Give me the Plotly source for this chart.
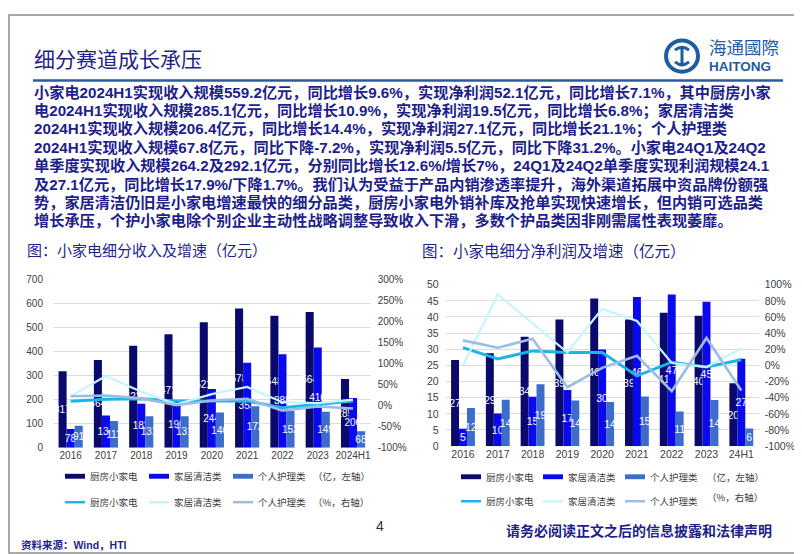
import plotly.graph_objects as go

W, H = 802, 554

# ---------------- data ----------------
series_names = ["厨房小家电", "家居清洁类", "个人护理类"]

rev_years = ["2016", "2017", "2018", "2019", "2020", "2021", "2022", "2023", "2024H1"]
rev_kitchen = [317, 364, 423, 471, 521, 578, 548, 564, 285.1]
rev_cleaning = [78, 134, 182, 190, 244, 353, 388, 416, 206.4]
rev_personal = [91, 111, 131, 131, 146, 172, 152, 149, 67.8]
rev_g_kitchen = [10, 15, 16, 11, 11, 11, -5, 3, 11]
rev_g_cleaning = [22, 70, 33, 3, 27, 44, 8, 6, 14]
rev_g_personal = [22, 24, 17, 1, 12, 16, -12, -2, -7]

prof_years = ["2016", "2017", "2018", "2019", "2020", "2021", "2022", "2023", "24H1"]
prof_kitchen = [26.7, 28.8, 33.9, 39.2, 45.7, 39.2, 41.3, 40.4, 19.5]
prof_cleaning = [5.4, 10.1, 15.3, 17.4, 29.9, 46.2, 47.0, 44.7, 27.1]
prof_personal = [11.8, 14.4, 19.2, 14.1, 13.7, 15.4, 10.7, 14.3, 5.5]
prof_g_kitchen = [22, 8, 18, 16, 16, -13, 4, -2, 7]
prof_g_cleaning = [0, 88, 52, 16, 70, 55, 3, -2, 21]
prof_g_personal = [31, 22, 33, -27, -3, 12, -32, 34, -31]

left_ticks = [0, 100, 200, 300, 400, 500, 600, 700]
left_pct_ticks = [-100, -50, 0, 50, 100, 150, 200, 250, 300]
right_ticks = [0, 5, 10, 15, 20, 25, 30, 35, 40, 45, 50]
right_pct_ticks = [-100, -80, -60, -40, -20, 0, 20, 40, 60, 80, 100]

title_text = "细分赛道成长承压"
body_lines = [
    "小家电2024H1实现收入规模559.2亿元，同比增长9.6%，实现净利润52.1亿元，同比增长7.1%，其中厨房小家",
    "电2024H1实现收入规模285.1亿元，同比增长10.9%，实现净利润19.5亿元，同比增长6.8%；家居清洁类",
    "2024H1实现收入规模206.4亿元，同比增长14.4%，实现净利润27.1亿元，同比增长21.1%；个人护理类",
    "2024H1实现收入规模67.8亿元，同比下降-7.2%，实现净利润5.5亿元，同比下降31.2%。小家电24Q1及24Q2",
    "单季度实现收入规模264.2及292.1亿元，分别同比增长12.6%/增长7%，24Q1及24Q2单季度实现利润规模24.1",
    "及27.1亿元，同比增长17.9%/下降1.7%。我们认为受益于产品内销渗透率提升，海外渠道拓展中资品牌份额强",
    "势，家居清洁仍旧是小家电增速最快的细分品类，厨房小家电外销补库及抢单实现快速增长，但内销可选品类",
    "增长承压，个护小家电除个别企业主动性战略调整导致收入下滑，多数个护品类因非刚需属性表现萎靡。",
]
sub_left = "图：小家电细分收入及增速（亿元）"
sub_right = "图：小家电细分净利润及增速（亿元）"

# ---------------- styles ----------------
BAR_COLORS = ["#0A0A6C", "#0A0AEC", "#3D6CCB"]
LINE_COLORS = ["#1DB4E6", "#C8F4FB", "#9BBCE6"]
LINE_WIDTHS = [3, 2.2, 2.6]
NAVY = "#1E1F8A"
LATIN = "Liberation Sans, Arial, Noto Sans CJK SC"
CJK = "Noto Sans CJK SC, Liberation Sans"


def px(x):
    return x / W


def py(y):
    return 1 - y / H


fig = go.Figure()

# left chart: revenue
for name, vals, col in zip(series_names, [rev_kitchen, rev_cleaning, rev_personal], BAR_COLORS):
    fig.add_trace(go.Bar(
        x=rev_years, y=vals, name=name, xaxis="x", yaxis="y",
        marker=dict(color=col, line=dict(width=0)),
        texttemplate="%{y:.0f}", textposition="inside", insidetextanchor="middle",
        textangle=0, constraintext="none",
        textfont=dict(color="white", size=10, family=LATIN),
        showlegend=False,
    ))
for name, vals, col, lw in zip(series_names, [rev_g_kitchen, rev_g_cleaning, rev_g_personal], LINE_COLORS, LINE_WIDTHS):
    fig.add_trace(go.Scatter(
        x=rev_years, y=vals, name=name, xaxis="x", yaxis="y2", mode="lines",
        line=dict(color=col, width=lw), showlegend=False,
    ))

# right chart: net profit
for name, vals, col in zip(series_names, [prof_kitchen, prof_cleaning, prof_personal], BAR_COLORS):
    fig.add_trace(go.Bar(
        x=prof_years, y=vals, name=name, xaxis="x2", yaxis="y3",
        marker=dict(color=col, line=dict(width=0)),
        texttemplate="%{y:.0f}", textposition="inside", insidetextanchor="middle",
        textangle=0, constraintext="none",
        textfont=dict(color="white", size=10.5, family=LATIN),
        showlegend=False,
    ))
for name, vals, col, lw in zip(series_names, [prof_g_kitchen, prof_g_cleaning, prof_g_personal], LINE_COLORS, LINE_WIDTHS):
    fig.add_trace(go.Scatter(
        x=prof_years, y=vals, name=name, xaxis="x2", yaxis="y4", mode="lines",
        line=dict(color=col, width=lw), showlegend=False,
    ))

tickfont_l = dict(family=LATIN, size=10, color="#404040")
tickfont_r = dict(family=LATIN, size=10.5, color="#404040")

fig.update_layout(
    width=W, height=H,
    margin=dict(l=0, r=0, t=0, b=0),
    paper_bgcolor="white", plot_bgcolor="white",
    barmode="group", bargap=0.315, bargroupgap=0,
    showlegend=False,
    xaxis=dict(domain=[px(45), px(362.7)], anchor="y", type="category",
               tickfont=tickfont_l, showline=False, ticks="", showgrid=False),
    yaxis=dict(domain=[py(443.3), py(271)], range=[0, 700], tickvals=left_ticks,
               tickfont=tickfont_l, gridcolor="#DCDCDC", gridwidth=1, zeroline=False,
               showline=False, ticks="", ticklabelstandoff=9),
    yaxis2=dict(overlaying="y", side="right", anchor="x", range=[-100, 300],
                tickvals=left_pct_ticks, ticktext=[f"{v}%" for v in left_pct_ticks],
                tickfont=tickfont_l,
                showgrid=False, zeroline=False, showline=False, ticks="", ticklabelstandoff=6),
    xaxis2=dict(domain=[px(437.6), px(750.7)], anchor="y3", type="category",
                tickfont=tickfont_r, showline=False, ticks="", showgrid=False),
    yaxis3=dict(domain=[py(441.7), py(276.7)], anchor="x2", range=[0, 50], tickvals=right_ticks,
                tickfont=tickfont_r, gridcolor="#DCDCDC", gridwidth=1, zeroline=False,
                showline=False, ticks="", ticklabelstandoff=6),
    yaxis4=dict(overlaying="y3", side="right", anchor="x2", range=[-100, 100],
                tickvals=right_pct_ticks, ticktext=[f"{v}%" for v in right_pct_ticks],
                tickfont=tickfont_r,
                showgrid=False, zeroline=False, showline=False, ticks="", ticklabelstandoff=5),
)

shapes = []
annotations = []

# slide border
shapes.append(dict(type="rect", xref="paper", yref="paper", x0=px(1), y0=py(551), x1=px(798), y1=py(1),
                   line=dict(color="#8C8C8C", width=1.5), fillcolor="rgba(0,0,0,0)", layer="above"))
# title underline
shapes.append(dict(type="line", xref="paper", yref="paper", x0=px(25), x1=px(775), y0=py(68), y1=py(68),
                   line=dict(color="#2E5A9C", width=2.5)))

# title
annotations.append(dict(text=title_text, x=px(24), y=py(45), xref="paper", yref="paper",
                        xanchor="left", yanchor="middle", showarrow=False,
                        font=dict(family=CJK, size=21, color=NAVY)))

# logo
shapes.append(dict(type="circle", xref="paper", yref="paper", x0=px(658), x1=px(690), y0=py(59), y1=py(27),
                   line=dict(color="#1E5D9E", width=4)))
shapes.append(dict(type="path", xref="paper", yref="paper",
                   path=f"M {px(667)},{py(37)} Q {px(674)},{py(31)} {px(681)},{py(37)} "
                        f"M {px(667)},{py(49)} Q {px(674)},{py(55)} {px(681)},{py(49)} "
                        f"M {px(674)},{py(35)} L {px(674)},{py(51)}",
                   line=dict(color="#1E5D9E", width=3)))
annotations.append(dict(text="海通國際", x=px(699), y=py(33), xref="paper", yref="paper",
                        xanchor="left", yanchor="middle", showarrow=False,
                        font=dict(family=CJK, size=17.5, color="#1E5D9E")))
annotations.append(dict(text="<b>HAITONG</b>", x=px(699), y=py(53.5), xref="paper", yref="paper",
                        xanchor="left", yanchor="middle", showarrow=False,
                        font=dict(family=LATIN, size=13.5, color="#1E5D9E")))

# body text
for i, line in enumerate(body_lines):
    annotations.append(dict(text=f"<b>{line}</b>", x=px(24), y=py(80.5 + 18.7 * i),
                            xref="paper", yref="paper", xanchor="left", yanchor="middle",
                            showarrow=False,
                            font=dict(family="Liberation Sans, Arial, Noto Sans CJK SC", size=15.2, color=NAVY)))

# subtitles
annotations.append(dict(text=sub_left, x=px(17), y=py(241), xref="paper", yref="paper",
                        xanchor="left", yanchor="middle", showarrow=False,
                        font=dict(family=CJK, size=15, color=NAVY)))
annotations.append(dict(text=sub_right, x=px(412), y=py(241), xref="paper", yref="paper",
                        xanchor="left", yanchor="middle", showarrow=False,
                        font=dict(family=CJK, size=15.5, color=NAVY)))


# legends (manual)
def add_legend(keys_x, text_x, row1_y, row2_y, note_x, note1, note2, note2_y, fsize):
    for k in range(3):
        shapes.append(dict(type="rect", xref="paper", yref="paper",
                           x0=px(keys_x[k]), x1=px(keys_x[k] + 20), y0=py(row1_y + 2.5), y1=py(row1_y - 2.5),
                           fillcolor=BAR_COLORS[k], line=dict(width=0)))
        shapes.append(dict(type="line", xref="paper", yref="paper",
                           x0=px(keys_x[k]), x1=px(keys_x[k] + 20), y0=py(row2_y), y1=py(row2_y),
                           line=dict(color=LINE_COLORS[k], width=2.5)))
        for yy in (row1_y, row2_y):
            annotations.append(dict(text=series_names[k], x=px(text_x[k]), y=py(yy),
                                    xref="paper", yref="paper", xanchor="left", yanchor="middle",
                                    showarrow=False, font=dict(family=CJK, size=fsize, color="#404040")))
    annotations.append(dict(text=note1, x=px(note_x), y=py(row1_y), xref="paper", yref="paper",
                            xanchor="left", yanchor="middle", showarrow=False,
                            font=dict(family=CJK, size=fsize, color="#404040")))
    annotations.append(dict(text=note2, x=px(note_x), y=py(note2_y), xref="paper", yref="paper",
                            xanchor="left", yanchor="middle", showarrow=False,
                            font=dict(family=CJK, size=fsize, color="#404040")))


add_legend([57, 141, 225], [80, 164, 248], 472.5, 499, 303, "（亿，左轴）", "（%，右轴）", 499, 9.5)
add_legend([453, 535, 617], [476, 558, 640], 473, 498, 697, "（亿，左轴）", "（%，右轴）", 494, 9.5)

# footer
annotations.append(dict(text="4", x=px(372), y=py(523), xref="paper", yref="paper",
                        xanchor="center", yanchor="middle", showarrow=False,
                        font=dict(family=LATIN, size=14, color="#333333")))
annotations.append(dict(text="<b>请务必阅读正文之后的信息披露和法律声明</b>", x=px(496), y=py(527),
                        xref="paper", yref="paper", xanchor="left", yanchor="middle", showarrow=False,
                        font=dict(family=CJK, size=14, color=NAVY)))
annotations.append(dict(text="<b>资料来源：Wind，HTI</b>", x=px(11), y=py(543),
                        xref="paper", yref="paper", xanchor="left", yanchor="middle", showarrow=False,
                        font=dict(family=LATIN, size=10.5, color=NAVY)))

fig.update_layout(shapes=shapes, annotations=annotations)

fig.write_html("out.html")
